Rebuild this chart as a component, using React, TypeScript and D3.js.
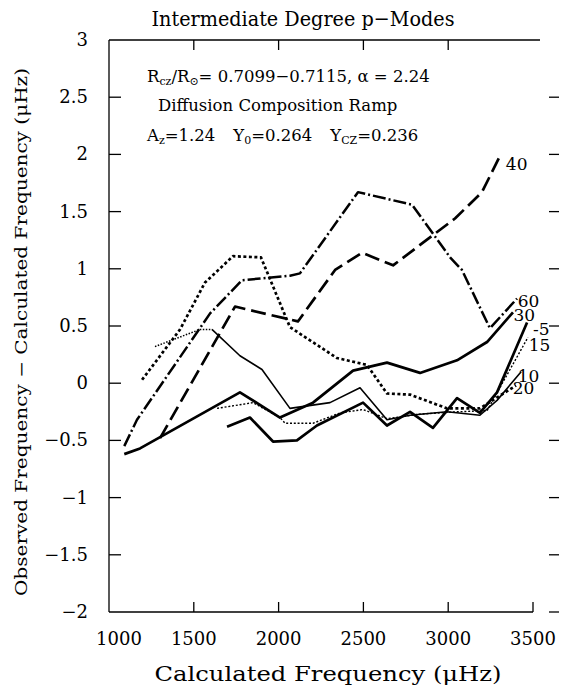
import React from 'react';
import * as d3 from 'd3';

// axis ticks
const freqTicks = [1000, 1500, 2000, 2500, 3000, 3500];
const valueTicks = [3, 2.5, 2, 1.5, 1, 0.5, 0, -0.5, -1, -1.5, -2];

// degree l = 60, dash-dot
const l60Freq = [1090, 1165, 1596, 1784, 2067, 2126, 2468, 2787, 3011, 3081, 3246, 3406];
const l60Val = [-0.55, -0.32, 0.61, 0.9, 0.94, 0.96, 1.67, 1.56, 1.1, 0.99, 0.48, 0.74];

// l = 40, long dashes
const l40Freq = [1301, 1743, 2114, 2333, 2492, 2675, 3040, 3199, 3310];
const l40Val = [-0.48, 0.67, 0.54, 0.99, 1.14, 1.03, 1.44, 1.67, 2.0];

// l = 30, solid
const l30Freq = [1090, 1183, 1772, 2008, 2203, 2439, 2639, 2834, 3052, 3229, 3382];
const l30Val = [-0.62, -0.57, -0.08, -0.3, -0.17, 0.11, 0.18, 0.09, 0.2, 0.36, 0.62];

// l = 5, solid
const l5Freq = [1696, 1831, 1967, 2108, 2226, 2498, 2639, 2775, 2910, 3052, 3187, 3288, 3465];
const l5Val = [-0.38, -0.3, -0.51, -0.5, -0.37, -0.17, -0.37, -0.25, -0.39, -0.13, -0.26, -0.08, 0.53];

// l = 20, heavy dots
const l20Freq = [1195, 1419, 1566, 1731, 1896, 2067, 2344, 2521, 2639, 2775, 2993, 3187, 3400];
const l20Val = [0.03, 0.47, 0.88, 1.11, 1.1, 0.49, 0.22, 0.16, -0.09, -0.1, -0.22, -0.22, -0.02];

// l = 10, thin (dotted start)
const l10Freq = [1271, 1536, 1607, 1772, 1902, 2067, 2303, 2480, 2639, 2775, 2993, 3187, 3288, 3430];
const l10Val = [0.32, 0.47, 0.47, 0.24, 0.12, -0.22, -0.17, -0.04, -0.32, -0.28, -0.25, -0.28, -0.15, 0.1];

// l = 15, thin dots
const l15Freq = [1637, 1849, 2008, 2038, 2203, 2362, 2498, 2639, 2834, 3052, 3229, 3470];
const l15Val = [-0.22, -0.17, -0.3, -0.35, -0.35, -0.26, -0.23, -0.31, -0.27, -0.25, -0.24, 0.4];

const font = '"DejaVu Serif", serif';

function App() {
  const width = 561;
  const height = 688;

  const x = d3.scaleLinear().domain([1000, 3500]).range([109, 533]);
  const y = d3.scaleLinear().domain([-2, 3]).range([612, 40]);

  const path = (fs: number[], vs: number[]) =>
    d3.line<number>()
      .x((d, i) => x(fs[i]))
      .y(d => y(d))
      .curve(d3.curveLinear)(vs) || '';

  const lines = [
    { d: path(l60Freq, l60Val), w: 2.5, dash: '13,3,2,3' },
    { d: path(l40Freq, l40Val), w: 2.7, dash: '15,6' },
    { d: path(l30Freq, l30Val), w: 2.7, dash: null },
    { d: path(l5Freq, l5Val), w: 2.7, dash: null },
    { d: path(l20Freq, l20Val), w: 2.7, dash: '3,2.5' },
    { d: path(l10Freq.slice(0, 3), l10Val.slice(0, 3)), w: 1.5, dash: '1.5,1.5' },
    { d: path(l10Freq.slice(2), l10Val.slice(2)), w: 1.6, dash: null },
    { d: path(l15Freq, l15Val), w: 1.4, dash: '2,1.8' },
  ];

  const labels = [
    { t: '60', f: 3410, v: 0.72 },
    { t: '30', f: 3385, v: 0.6 },
    { t: '-5', f: 3500, v: 0.47 },
    { t: '15', f: 3475, v: 0.33 },
    { t: '10', f: 3410, v: 0.06 },
    { t: '20', f: 3380, v: -0.04 },
    { t: '40', f: 3340, v: 1.92 },
  ];

  return (
    <svg width={width} height={height} style={{ position: 'absolute', left: 0, top: 0, background: '#fff' }}
      fontFamily={font}>
      <rect x={0} y={0} width={width} height={height} fill="#fff" />

      <text x={303} y={26} textAnchor="middle" fontSize={21} textLength={303} lengthAdjust="spacingAndGlyphs">
        Intermediate Degree p−Modes
      </text>

      {/* frame */}
      <g stroke="#000" strokeWidth={1.3} fill="none">
        <line x1={x(1000)} x2={x(1000)} y1={y(3)} y2={y(-2)} />
        <line x1={x(1000)} x2={x(3500)} y1={y(-2)} y2={y(-2)} />
        <line x1={x(1000)} x2={540} y1={y(3)} y2={y(3)} />
        {freqTicks.slice(1).map(t => (
          <g key={t}>
            <line x1={x(t)} x2={x(t)} y1={y(-2)} y2={y(-2) - 10} />
            {t < 3500 && <line x1={x(t)} x2={x(t)} y1={y(3)} y2={y(3) + 10} />}
          </g>
        ))}
        {valueTicks.slice(1, -1).map(t => (
          <line key={t} x1={x(1000)} x2={x(1000) + 12} y1={y(t)} y2={y(t)} />
        ))}
        {valueTicks.slice(1).map(t => (
          <line key={'r' + t} x1={549} x2={559} y1={y(t)} y2={y(t)} />
        ))}
      </g>

      {/* tick labels */}
      <g fontSize={18}>
        {freqTicks.map((t, i) => (
          <text key={t} x={x(t) + (i === 0 ? 10 : 0)} y={645} textAnchor="middle">{t}</text>
        ))}
        {valueTicks.map(t => (
          <text key={t} x={88} y={y(t) + 6} textAnchor="end">{t < 0 ? '−' + Math.abs(t) : t}</text>
        ))}
      </g>

      <text x={328} y={681} textAnchor="middle" fontSize={21} textLength={347} lengthAdjust="spacingAndGlyphs">
        Calculated Frequency (μHz)
      </text>
      <text transform="translate(27,332) rotate(-90)" textAnchor="middle" fontSize={16}
        textLength={528} lengthAdjust="spacingAndGlyphs">
        Observed Frequency − Calculated Frequency (μHz)
      </text>

      {/* annotation */}
      <g fontSize={16.5}>
        <text x={147} y={82}>
          R<tspan fontSize={11} dy={3}>cz</tspan><tspan dy={-3}>/R</tspan><tspan fontSize={11} dy={3}>⊙</tspan>
          <tspan dy={-3}>= 0.7099−0.7115, α = 2.24</tspan>
        </text>
        <text x={158} y={111}>Diffusion Composition Ramp</text>
        <text x={147} y={141}>
          A<tspan fontSize={11} dy={3}>z</tspan><tspan dy={-3}>=1.24</tspan>
          <tspan dx={18}>Y</tspan><tspan fontSize={11} dy={3}>0</tspan><tspan dy={-3}>=0.264</tspan>
          <tspan dx={18}>Y</tspan><tspan fontSize={11} dy={3}>CZ</tspan><tspan dy={-3}>=0.236</tspan>
        </text>
      </g>

      {/* series */}
      <g fill="none" stroke="#000" strokeLinejoin="round">
        {lines.map((l, i) => (
          <path key={i} d={l.d} strokeWidth={l.w} strokeDasharray={l.dash || undefined} />
        ))}
      </g>

      <g fontSize={17}>
        {labels.map(l => (
          <text key={l.t} x={x(l.f)} y={y(l.v) + 6}>{l.t}</text>
        ))}
      </g>
    </svg>
  );
}

export default App;
